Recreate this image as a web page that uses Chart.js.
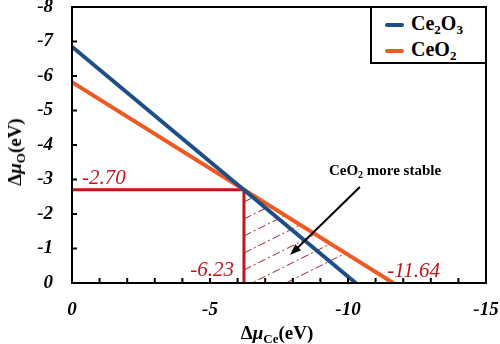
<!DOCTYPE html>
<html>
<head>
<meta charset="utf-8">
<script src="https://cdn.jsdelivr.net/npm/chart.js@4"></script>
<style>
  body { margin: 0; background: #fff; }
  #wrap { position: relative; width: 500px; height: 344px; font-family: 'Liberation Serif', serif; }
  .title { position: absolute; font-weight: bold; font-size: 19px; white-space: nowrap; color: #000; }
  .title i { font-style: italic; }
  .title sub { font-size: 13px; vertical-align: -4px; line-height: 0; }
  #ytitle { left: 15px; top: 152px; transform: translate(-50%, -50%) rotate(-90deg); }
  #xtitle { left: 277px; top: 333px; transform: translate(-50%, -50%); }
  #legend { position: absolute; left: 370px; top: 6px; width: 117px; height: 58px; box-sizing: border-box;
            border: 2px solid #000; background: #fff; font-weight: bold; font-size: 20px; }
  #legend div { position: absolute; left: 13px; white-space: nowrap; line-height: 20px; }
  #legend span.sw { display: inline-block; width: 19px; height: 4px; border-radius: 2px; vertical-align: middle; margin-right: 7px; }
  #legend sub { font-size: 13px; vertical-align: -4px; line-height: 0; }
</style>
</head>
<body>
<div id="wrap">
  <canvas id="graph" width="500" height="344"></canvas>
  <div class="title" id="ytitle">&Delta;<i>&mu;</i><sub>O</sub>(eV)</div>
  <div class="title" id="xtitle">&Delta;<i>&mu;</i><sub>Ce</sub>(eV)</div>
  <div id="legend">
    <div style="top:5px"><span class="sw" style="background:#1d4f86"></span>Ce<sub>2</sub>O<sub>3</sub></div>
    <div style="top:31px"><span class="sw" style="background:#ee5a24"></span>CeO<sub>2</sub></div>
  </div>
</div>
<script>
// data (eV)
let ce2o3X = [0, -10.28]
let ce2o3Y = [-6.85, 0]
let ceo2X = [0, -11.64]
let ceo2Y = [-5.82, 0]
// crossing point of the two lines
let crossX = -6.23
let crossY = -2.70
let xTicks = [0, -5, -10, -15]
let yTicks = [0, -1, -2, -3, -4, -5, -6, -7, -8]
// arrow + note, in data units
let arrowFrom = [-10.43, -2.78]
let arrowTo = [-7.9, -0.81]
let notePos = [-11.34, -3.28]

let blue = '#1d4f86'
let orange = '#ee5a24'
let red = '#c0161c'
let serif = "'Liberation Serif', serif"

function pts(xs, ys) {
    return xs.map((x, i) => ({ x: x, y: ys[i] }))
}

// hatch + inner ticks + frame + labels
let extras = {
    id: 'extras',
    beforeDatasetsDraw(chart) {
        let ctx = chart.ctx
        let sx = chart.scales.x, sy = chart.scales.y
        let ax = sx.getPixelForValue(crossX), ay = sy.getPixelForValue(0)
        let by = sy.getPixelForValue(crossY)
        let cx = sx.getPixelForValue(ceo2X[1])
        ctx.save()
        ctx.beginPath()
        ctx.moveTo(ax, ay); ctx.lineTo(ax, by); ctx.lineTo(cx, ay); ctx.closePath()
        ctx.clip()
        ctx.strokeStyle = '#a01a2a'
        ctx.lineWidth = 1
        ctx.setLineDash([8, 3, 2, 3])
        for (let k = -2; k < 14; k++) {
            let y0 = ay - 13 - 17 * k
            ctx.beginPath()
            ctx.moveTo(ax, y0)
            ctx.lineTo(cx + 20, y0 - (cx + 20 - ax) * 0.5)
            ctx.stroke()
        }
        ctx.restore()
    },
    afterDatasetsDraw(chart) {
        let ctx = chart.ctx
        let a = chart.chartArea
        let sx = chart.scales.x, sy = chart.scales.y
        ctx.save()
        // inner ticks
        ctx.strokeStyle = '#000'
        ctx.lineWidth = 2
        for (let v = -15; v <= 0; v++) {
            let px = sx.getPixelForValue(v)
            ctx.beginPath(); ctx.moveTo(px, a.bottom); ctx.lineTo(px, a.bottom - 5); ctx.stroke()
        }
        for (let v = -8; v <= 0; v++) {
            let py = sy.getPixelForValue(v)
            ctx.beginPath(); ctx.moveTo(a.left, py); ctx.lineTo(a.left + 5, py); ctx.stroke()
        }
        ctx.strokeRect(a.left, a.top, a.right - a.left, a.bottom - a.top)

        // value labels
        ctx.fillStyle = red
        ctx.font = 'italic 21px ' + serif
        ctx.textBaseline = 'middle'
        ctx.textAlign = 'left'
        ctx.fillText(crossY.toFixed(2), sx.getPixelForValue(0) + 10, sy.getPixelForValue(crossY) - 11)
        ctx.textAlign = 'right'
        ctx.fillText(crossX.toFixed(2), sx.getPixelForValue(crossX) - 10, sy.getPixelForValue(0) - 13)
        ctx.textAlign = 'left'
        ctx.fillText(ceo2X[1].toFixed(2), sx.getPixelForValue(ceo2X[1]) - 6, sy.getPixelForValue(0) - 12)

        // arrow
        let x1 = sx.getPixelForValue(arrowFrom[0]), y1 = sy.getPixelForValue(arrowFrom[1])
        let x2 = sx.getPixelForValue(arrowTo[0]), y2 = sy.getPixelForValue(arrowTo[1])
        let ang = Math.atan2(y2 - y1, x2 - x1)
        ctx.strokeStyle = '#000'
        ctx.fillStyle = '#000'
        ctx.lineWidth = 2
        ctx.beginPath(); ctx.moveTo(x1, y1)
        ctx.lineTo(x2 - 8 * Math.cos(ang), y2 - 8 * Math.sin(ang)); ctx.stroke()
        ctx.beginPath()
        ctx.moveTo(x2, y2)
        ctx.lineTo(x2 - 12 * Math.cos(ang - 0.35), y2 - 12 * Math.sin(ang - 0.35))
        ctx.lineTo(x2 - 12 * Math.cos(ang + 0.35), y2 - 12 * Math.sin(ang + 0.35))
        ctx.closePath(); ctx.fill()

        // note text with subscript
        let nx = sx.getPixelForValue(notePos[0]), ny = sy.getPixelForValue(notePos[1])
        let big = 'bold 15px ' + serif, small = 'bold 10px ' + serif
        ctx.font = big
        let w1 = ctx.measureText('CeO').width, w3 = ctx.measureText(' more stable').width
        ctx.font = small
        let w2 = ctx.measureText('2').width
        let left = nx - (w1 + w2 + w3) / 2
        ctx.textAlign = 'left'
        ctx.textBaseline = 'alphabetic'
        ctx.font = big
        ctx.fillText('CeO', left, ny + 5)
        ctx.font = small
        ctx.fillText('2', left + w1, ny + 8)
        ctx.font = big
        ctx.fillText(' more stable', left + w1 + w2, ny + 5)
        ctx.restore()
    }
}

let tickFont = { family: serif, size: 19, weight: 'bold', style: 'italic' }

function drawChart() {
    new Chart(document.getElementById('graph').getContext('2d'), {
        type: 'line',
        data: {
            datasets: [
                {
                    label: 'Ce2O3',
                    data: pts(ce2o3X, ce2o3Y),
                    borderColor: blue,
                    borderWidth: 4,
                },
                {
                    label: 'CeO2',
                    data: pts(ceo2X, ceo2Y),
                    borderColor: orange,
                    borderWidth: 4,
                },
                {
                    label: 'cross',
                    data: pts([0, crossX, crossX], [crossY, crossY, 0]),
                    borderColor: red,
                    borderWidth: 3,
                },
            ]
        },
        options: {
            responsive: false,
            animation: false,
            events: [],
            elements: { point: { radius: 0 }, line: { tension: 0, borderCapStyle: 'butt' } },
            layout: { padding: { top: 7, right: 14, left: 0, bottom: 0 } },
            plugins: { legend: { display: false }, tooltip: { enabled: false } },
            scales: {
                x: {
                    type: 'linear',
                    min: -15, max: 0,
                    reverse: true,
                    grid: { display: false, drawTicks: false },
                    border: { display: false },
                    afterBuildTicks: s => { s.ticks = xTicks.map(v => ({ value: v })) },
                    afterFit: s => { s.height = 61; s.paddingLeft = 0; s.paddingRight = 0 },
                    ticks: {
                        font: tickFont, color: '#000', padding: 16,
                        callback: v => String(v),
                    },
                },
                y: {
                    type: 'linear',
                    min: -8, max: 0,
                    reverse: true,
                    grid: { display: false, drawTicks: false },
                    border: { display: false },
                    afterBuildTicks: s => { s.ticks = yTicks.map(v => ({ value: v })) },
                    afterFit: s => { s.width = 72; s.paddingTop = 0; s.paddingBottom = 0 },
                    ticks: {
                        font: tickFont, color: '#000', padding: 19,
                        callback: v => String(v),
                    },
                },
            }
        },
        plugins: [extras]
    })
}

Promise.all([
    document.fonts.load("italic bold 19px 'Liberation Serif'"),
    document.fonts.load("italic 21px 'Liberation Serif'"),
    document.fonts.load("bold 15px 'Liberation Serif'"),
]).then(drawChart, drawChart)
</script>
</body>
</html>
